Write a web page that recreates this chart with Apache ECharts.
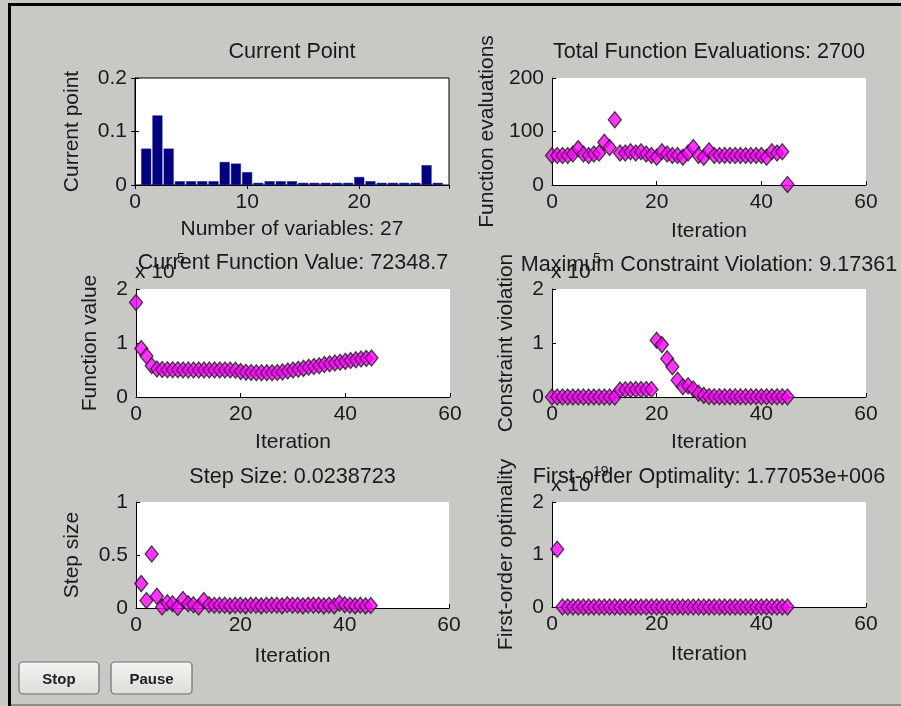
<!DOCTYPE html>
<html><head><meta charset="utf-8">
<script src="https://cdn.jsdelivr.net/npm/echarts@6/dist/echarts.min.js"></script>
<style>html,body{margin:0;padding:0;background:#c8c8c4;}#c{width:901px;height:706px;}</style>
</head><body><div id="c"></div>
<script>
// ---- data ----
const barValues = [0.068, 0.130, 0.068, 0.007, 0.007, 0.007, 0.007, 0.043, 0.040, 0.024,
  0.004, 0.007, 0.007, 0.007, 0.004, 0.004, 0.004, 0.004, 0.004, 0.015,
  0.007, 0.004, 0.004, 0.004, 0.004, 0.037, 0.004];
const funcEvals = [55, 55, 55, 55, 58, 68, 58, 55, 58, 60,
  80, 70, 122, 60, 60, 62, 60, 62, 58, 55,
  52, 62, 58, 55, 55, 52, 60, 70, 55, 52,
  64, 55, 55, 55, 55, 55, 55, 55, 55, 55,
  55, 52, 62, 60, 62, 1];
const funcValues = [175000, 90000, 76000, 58000, 52000, 51000, 50500, 50500, 50500, 50000,
  50000, 50000, 50000, 50000, 50000, 50000, 50000, 50000, 50000, 49500,
  47000, 46000, 45500, 45000, 45000, 45000, 45000, 45500, 46500, 48000,
  50000, 51500, 53000, 55000, 56500, 58000, 60000, 61500, 63000, 64500,
  66000, 67500, 69000, 70500, 71500, 72348.7];
const constrViol = [0, 0, 0, 0, 0, 0, 0, 0, 0, 0,
  0, 0, 0, 13000, 13500, 14000, 14000, 14000, 14000, 14000,
  105000, 97000, 71000, 56000, 31000, 19000, 21000, 15000, 7000, 3000,
  800, 600, 500, 500, 500, 500, 500, 500, 500, 500,
  500, 500, 500, 500, 500, 9.17361];
const stepSizes = [0.23, 0.07, 0.51, 0.11, 0.01, 0.05, 0.04, 0.005, 0.08, 0.04,
  0.03, 0.01, 0.07, 0.03, 0.025, 0.025, 0.025, 0.02, 0.025, 0.025,
  0.02, 0.025, 0.025, 0.02, 0.025, 0.025, 0.025, 0.02, 0.03, 0.025,
  0.025, 0.02, 0.025, 0.025, 0.025, 0.02, 0.025, 0.02, 0.045, 0.03,
  0.025, 0.02, 0.025, 0.02, 0.0238723];
const optimality = [1.1e19, 3.2e6, 2.9e6, 2.5e6, 2.4e6, 2.2e6, 2.1e6, 2.0e6, 2.0e6, 1.9e6,
  1.9e6, 1.9e6, 1.8e6, 1.8e6, 1.8e6, 1.8e6, 1.8e6, 1.8e6, 1.8e6, 1.8e6,
  1.8e6, 1.8e6, 1.8e6, 1.8e6, 1.8e6, 1.8e6, 1.8e6, 1.8e6, 1.8e6, 1.8e6,
  1.8e6, 1.8e6, 1.8e6, 1.8e6, 1.8e6, 1.8e6, 1.8e6, 1.8e6, 1.8e6, 1.8e6,
  1.8e6, 1.8e6, 1.8e6, 1.8e6, 1.77053e6];
const titles = ['Current Point', 'Total Function Evaluations: 2700', 'Current Function Value: 72348.7',
  'Maximum Constraint Violation: 9.17361', 'Step Size: 0.0238723', 'First-order Optimality: 1.77053e+006'];
const xNames = ['Number of variables: 27', 'Iteration', 'Iteration', 'Iteration', 'Iteration', 'Iteration'];
const yNames = ['Current point', 'Function evaluations', 'Function value', 'Constraint violation', 'Step size', 'First-order optimality'];
const xMax = [28, 60, 60, 60, 60, 60];
const xInterval = [10, 20, 20, 20, 20, 20];
const yMax = [0.2, 200, 2e5, 2e5, 1, 2e19];
const yInterval = [0.1, 100, 1e5, 1e5, 0.5, 1e19];
const yScale = [1, 1, 1e5, 1e5, 1, 1e19];
const exponents = [null, null, '5', '5', null, '19'];

// ---- layout ----
const FONT = '"Liberation Sans", Arial, sans-serif';
const TXT = '#1a1a1a';
const grids = [
  {left: 135, top: 78, width: 314, height: 107},
  {left: 552, top: 78, width: 314, height: 107},
  {left: 136, top: 289, width: 314, height: 108},
  {left: 552, top: 289, width: 314, height: 108},
  {left: 136, top: 502, width: 313, height: 106},
  {left: 552, top: 502, width: 314, height: 105}
];
const titleY = [52, 52, 263, 265, 477, 477];
const yNameGap = [52, 54, 35, 35, 53, 35];
const xNameGap = [34, 36, 35, 35, 38, 37];

const lineStyle = {color: '#000', width: 1};
const xAxes = [], yAxes = [];
grids.forEach((g, i) => {
  xAxes.push({
    type: 'value', gridIndex: i, min: 0, max: xMax[i], interval: xInterval[i],
    axisLine: {show: true, lineStyle}, axisTick: {show: true, inside: true, length: 4, lineStyle},
    axisLabel: {fontSize: 21, fontFamily: FONT, color: TXT, margin: 7, showMaxLabel: i !== 0},
    splitLine: {show: false},
    name: xNames[i], nameLocation: 'middle', nameGap: xNameGap[i],
    nameTextStyle: {fontSize: 21, fontFamily: FONT, color: TXT}
  });
  yAxes.push({
    type: 'value', gridIndex: i, min: 0, max: yMax[i], interval: yInterval[i],
    axisLine: {show: true, lineStyle}, axisTick: {show: true, inside: true, length: 4, lineStyle},
    axisLabel: {fontSize: 21, fontFamily: FONT, color: TXT, margin: 8,
      formatter: v => String(+(v / yScale[i]).toFixed(3))},
    splitLine: {show: false},
    name: yNames[i], nameLocation: 'middle', nameGap: yNameGap[i],
    nameTextStyle: {fontSize: 21, fontFamily: FONT, color: TXT}
  });
});
// mirror axes for the first (boxed) plot
xAxes.push({type: 'value', gridIndex: 0, position: 'top', min: 0, max: xMax[0], interval: xInterval[0],
  axisLine: {show: true, lineStyle}, axisTick: {show: true, inside: true, length: 4, lineStyle},
  axisLabel: {show: false}, splitLine: {show: false}});
yAxes.push({type: 'value', gridIndex: 0, position: 'right', min: 0, max: yMax[0], interval: yInterval[0],
  axisLine: {show: true, lineStyle}, axisTick: {show: true, inside: true, length: 4, lineStyle},
  axisLabel: {show: false}, splitLine: {show: false}});

const diamond = {
  type: 'scatter', symbol: 'diamond', symbolSize: [13, 16], clip: false,
  itemStyle: {color: '#ff00ff', borderColor: '#1a1a1a', borderWidth: 1.3}
};
const series = [
  {type: 'bar', xAxisIndex: 0, yAxisIndex: 0, barWidth: 10,
   itemStyle: {color: '#000080', borderColor: '#12129c', borderWidth: 0.5},
   data: barValues.map((v, i) => [i + 1, v])},
  Object.assign({}, diamond, {xAxisIndex: 1, yAxisIndex: 1, data: funcEvals.map((v, i) => [i, v])}),
  Object.assign({}, diamond, {xAxisIndex: 2, yAxisIndex: 2, data: funcValues.map((v, i) => [i, v])}),
  Object.assign({}, diamond, {xAxisIndex: 3, yAxisIndex: 3, data: constrViol.map((v, i) => [i, v])}),
  Object.assign({}, diamond, {xAxisIndex: 4, yAxisIndex: 4, data: stepSizes.map((v, i) => [i + 1, v])}),
  Object.assign({}, diamond, {xAxisIndex: 5, yAxisIndex: 5, data: optimality.map((v, i) => [i + 1, v])})
];

const graphics = [];
// window frame
graphics.push({type: 'rect', shape: {x: 8, y: 3, width: 893, height: 3}, style: {fill: '#000'}, z: 100});
graphics.push({type: 'rect', shape: {x: 8, y: 3, width: 3, height: 703}, style: {fill: '#000'}, z: 100});
graphics.push({type: 'rect', shape: {x: 11, y: 704, width: 890, height: 2}, style: {fill: '#8c8c88'}, z: 100});
// titles
grids.forEach((g, i) => {
  graphics.push({type: 'text', x: g.left + g.width / 2, y: titleY[i], z: 50,
    style: {text: titles[i], fill: TXT, font: '21.6px ' + FONT, align: 'center', verticalAlign: 'middle'}});
  if (exponents[i]) {
    graphics.push({type: 'text', x: g.left - 1, y: g.top - 17, z: 51,
      style: {text: 'x 10', fill: TXT, font: '21px ' + FONT, align: 'left', verticalAlign: 'middle'}});
    graphics.push({type: 'text', x: g.left + 41, y: g.top - 30, z: 51,
      style: {text: exponents[i], fill: TXT, font: '14px ' + FONT, align: 'left', verticalAlign: 'middle'}});
  }
});
// buttons
[['Stop', 19, 80], ['Pause', 111, 81]].forEach(([label, x, w]) => {
  graphics.push({type: 'rect', z: 60, shape: {x: x, y: 662, width: w, height: 32, r: 4},
    style: {fill: new echarts.graphic.LinearGradient(0, 0, 0, 1, [
      {offset: 0, color: '#f4f4f2'}, {offset: 1, color: '#dcdcd8'}]), stroke: '#6e6e6c', lineWidth: 1.2}});
  graphics.push({type: 'text', z: 61, x: x + w / 2, y: 680,
    style: {text: label, fill: '#222', font: 'bold 15px ' + FONT, align: 'center', verticalAlign: 'middle'}});
});

const chart = echarts.init(document.getElementById('c'), null, {renderer: 'canvas'});
chart.setOption({
  backgroundColor: '#c8c8c4',
  animation: false,
  grid: grids.map((g, i) => Object.assign({show: true, backgroundColor: '#fff',
    borderColor: '#000', borderWidth: i === 0 ? 1 : 0}, g)),
  xAxis: xAxes,
  yAxis: yAxes,
  series: series,
  graphic: graphics
});
</script></body></html>
